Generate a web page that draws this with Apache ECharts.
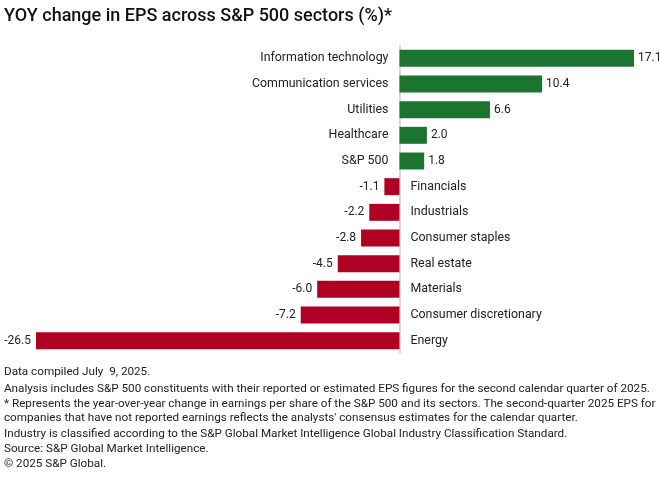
<!DOCTYPE html>
<html>
<head>
<meta charset="utf-8">
<script src="https://cdn.jsdelivr.net/npm/echarts@6/dist/echarts.min.js"></script>
<style>
html,body{margin:0;padding:0;background:#fff;}
#c{width:660px;height:481px;}
</style>
</head>
<body>
<div id="c"></div>
<script>
const categories = ["Information technology","Communication services","Utilities","Healthcare","S&P 500","Financials","Industrials","Consumer staples","Real estate","Materials","Consumer discretionary","Energy"];
const values = [17.1, 10.4, 6.6, 2.0, 1.8, -1.1, -2.2, -2.8, -4.5, -6.0, -7.2, -26.5];
const titleText = "YOY change in EPS across S&P 500 sectors (%)*";
const footnotes = [
  "Data compiled July  9, 2025.",
  "Analysis includes S&P 500 constituents with their reported or estimated EPS figures for the second calendar quarter of 2025.",
  "* Represents the year-over-year change in earnings per share of the S&P 500 and its sectors. The second-quarter 2025 EPS for",
  "companies that have not reported earnings reflects the analysts' consensus estimates for the calendar quarter.",
  "Industry is classified according to the S&P Global Market Intelligence Global Industry Classification Standard.",
  "Source: S&P Global Market Intelligence.",
  "\u00a9 2025 S&P Global."
];
const footY = [373, 390, 405, 419, 435, 450, 465];

const FONT = "Roboto";
const GREEN = "#1b7530", RED = "#b00023";

const chart = echarts.init(document.getElementById('c'), null, {renderer:'canvas'});
chart.setOption({
  animation:false,
  textStyle:{fontFamily:FONT},
  grid:{left:36, right:26, top:45.5, height:308},
  xAxis:{type:'value', min:-26.5, max:17.1, show:false},
  yAxis:{type:'category', data:categories, inverse:true,
    axisLine:{show:true, onZero:true, lineStyle:{color:'#cccccc', width:1.5}},
    axisTick:{show:false}, axisLabel:{show:false}},
  series:[
    {type:'bar', barWidth:'66%', z:3,
     data: values.map(v=>({value:v, itemStyle:{color: v>=0?GREEN:RED},
       label:{show:true, position: v>=0?'right':'left', distance: v>=0?4:5,
         formatter: p=>p.value.toFixed(1), color:'#222', fontSize:12, fontFamily:FONT}}))
    },
    {type:'bar', barWidth:'66%', barGap:'-100%', z:2, silent:true,
     itemStyle:{color:'transparent'},
     data: values.map((v,i)=>({value:0,
       label:{show:true, position: v>=0?'left':'right', distance:11,
         formatter: categories[i], color:'#222', fontSize:12.4, fontFamily:FONT}}))
    }
  ],
  graphic:[
    {type:'text', left:4, top:7, style:{text:titleText, font:'500 18px '+FONT, fill:'#111'}}
  ].concat(footnotes.map((t,i)=>({type:'text', left:4, top:footY[i]-7, style:{text:t, font:'11.7px '+FONT, fill:'#222'}})))
});
</script>
</body>
</html>
